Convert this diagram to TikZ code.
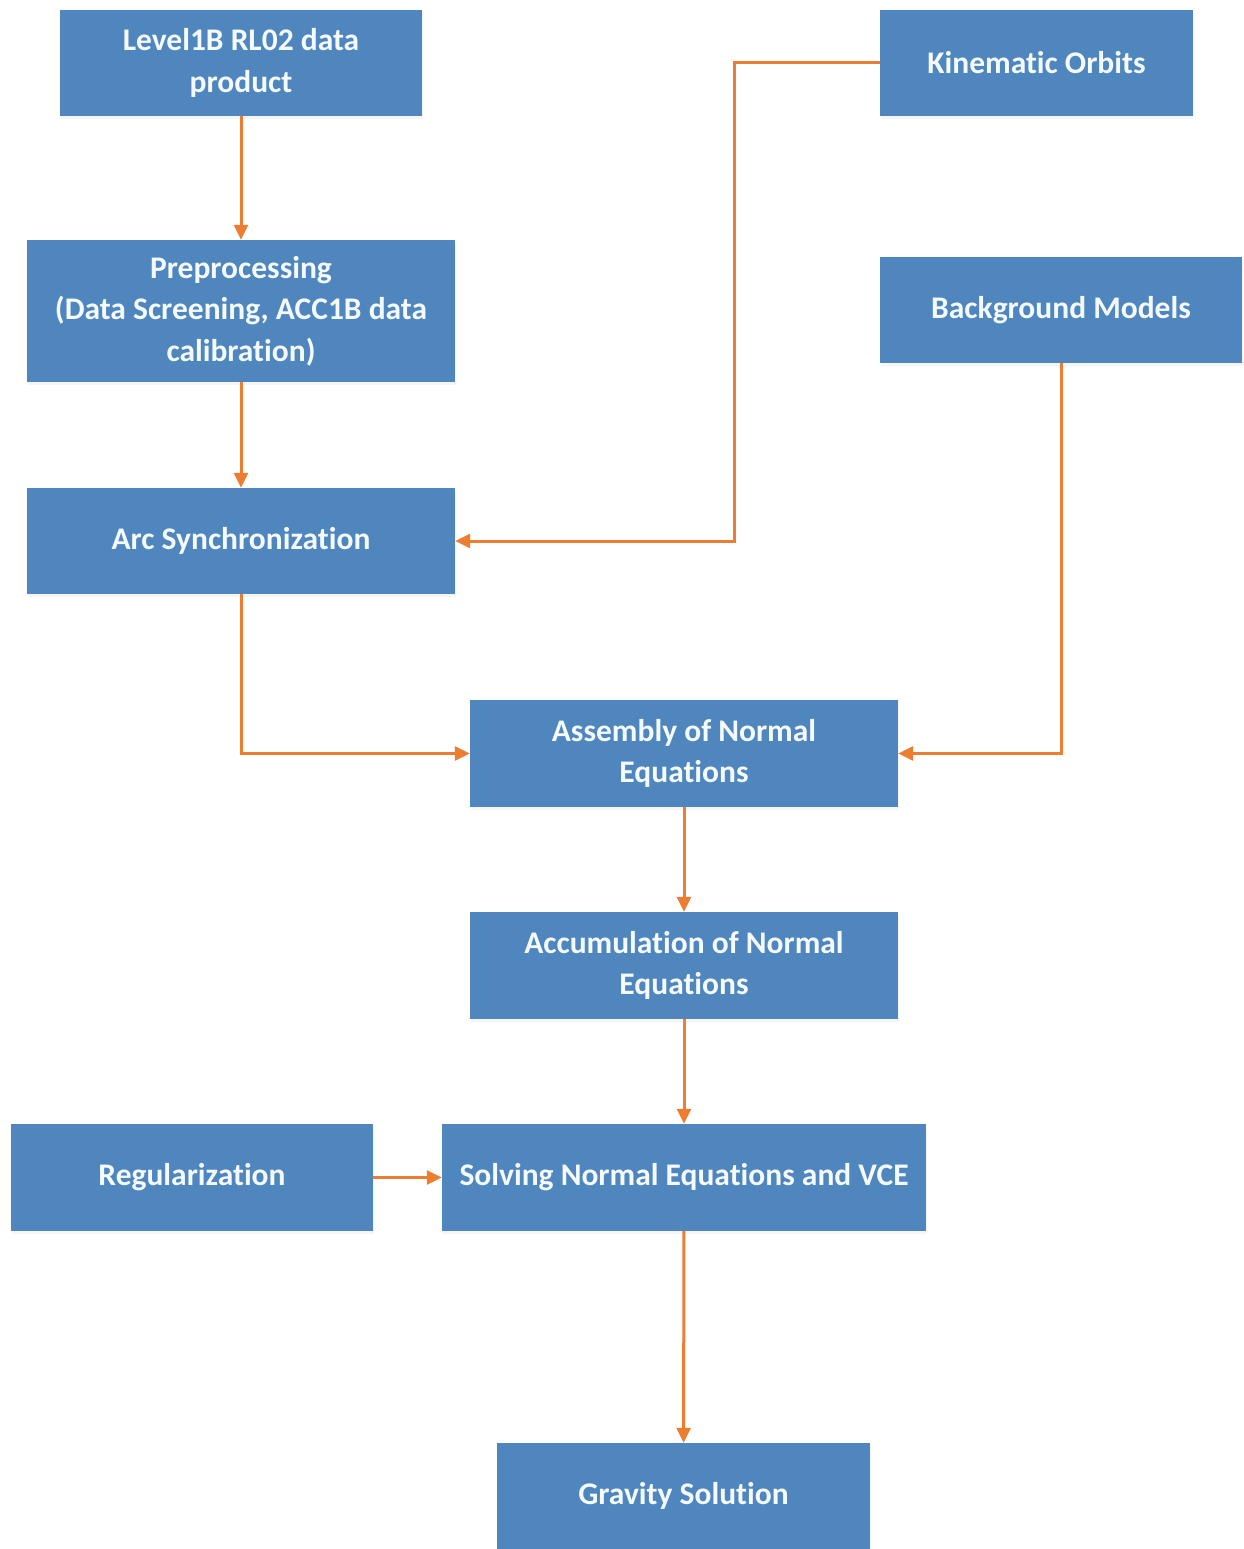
\documentclass[tikz,border=0pt]{standalone}
\usepackage{fontspec}
\setmainfont{Carlito}[Ligatures=NoCommon]
\usetikzlibrary{arrows.meta,shadows}
\definecolor{boxblue}{HTML}{4F86BE}
\definecolor{flow}{HTML}{ED7D31}
\definecolor{boxtext}{HTML}{F4FAFF}
\begin{document}
\begin{tikzpicture}[x=1pt,y=-1pt,
  procbox/.style={rectangle, fill=boxblue, text=boxtext, align=center,
    inner sep=0pt, font=\bfseries\fontsize{31.5}{41.5}\selectfont,
    drop shadow={opacity=0.08, shadow xshift=1pt, shadow yshift=-3pt}},
  flowline/.style={draw=flow, line width=3pt,
    -{Triangle[length=15pt,width=14pt]}}]
\useasboundingbox[fill=white] (0,0) rectangle (1243,1549);

% process boxes
\node[procbox, minimum width=362pt, minimum height=106pt] (lvl) at (241,63) {Level1B RL02 data\\product};
\node[procbox, minimum width=313pt, minimum height=106pt] (kin) at (1036.5,63) {Kinematic Orbits};
\node[procbox, minimum width=428pt, minimum height=142pt] (pre) at (241,311) {Preprocessing\\(Data Screening, ACC1B data\\calibration)};
\node[procbox, minimum width=362pt, minimum height=106pt] (bg) at (1061,310) {Background Models};
\node[procbox, minimum width=428pt, minimum height=106pt] (arc) at (241,541) {Arc Synchronization};
\node[procbox, minimum width=428pt, minimum height=107pt] (asm) at (684,753.5) {Assembly of Normal\\Equations};
\node[procbox, minimum width=428pt, minimum height=107pt] (acc) at (684,965.5) {Accumulation of Normal\\Equations};
\node[procbox, minimum width=362pt, minimum height=107pt] (reg) at (192,1177.5) {Regularization};
\node[procbox, minimum width=484pt, minimum height=107pt] (sol) at (684,1177.5) {Solving Normal Equations and VCE};
\node[procbox, minimum width=373pt, minimum height=106pt] (grav) at (683.5,1496) {Gravity Solution};

% connectors
\coordinate (kbend) at (734,63);
\draw[flowline] (lvl) -- (pre);
\draw[flowline] (pre) -- (arc);
\draw[flowline] (kin.west) -- (kbend) |- (arc.east);
\draw[flowline] (arc.south) |- (asm.west);
\draw[flowline] (bg.south) |- (asm.east);
\draw[flowline] (asm) -- (acc);
\draw[flowline] (acc) -- (sol);
\draw[flowline] (reg) -- (sol);
\draw[flowline] (sol) -- (grav);
\end{tikzpicture}
\end{document}
